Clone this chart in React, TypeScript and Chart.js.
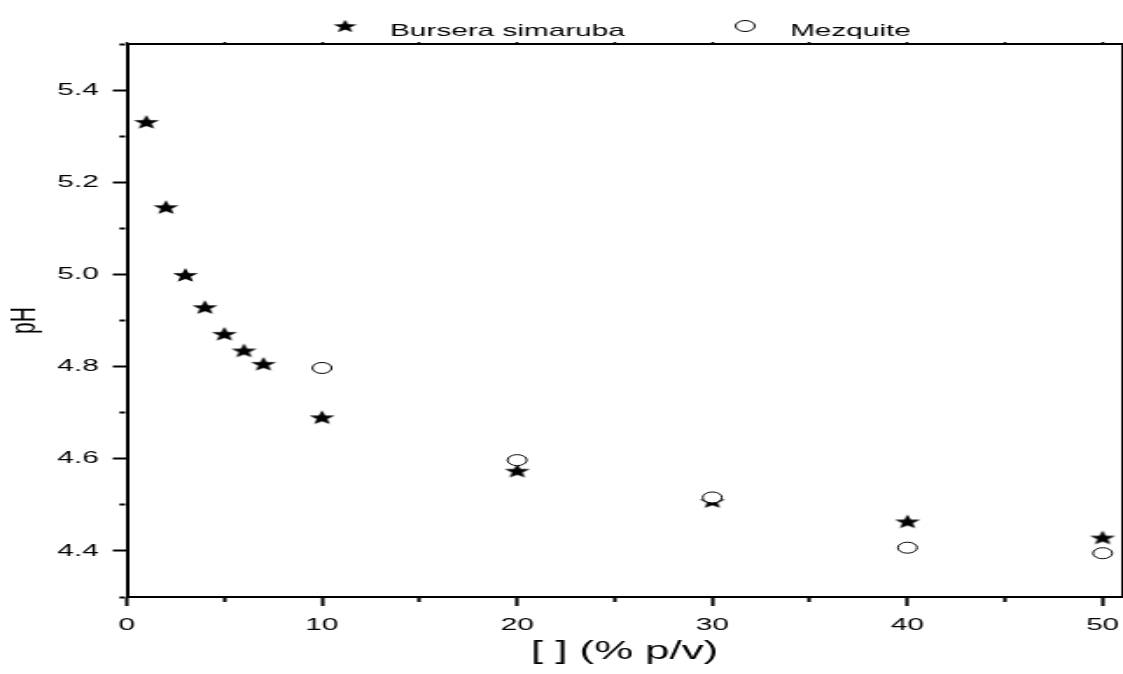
import React, { useEffect, useRef } from 'react';
import { Chart, registerables } from 'chart.js';

Chart.register(...registerables);

// ---- data ----
const seriesNames = ['Bursera simaruba', 'Mezquite'];
const burseraX = [1, 2, 3, 4, 5, 6, 7, 10, 20, 30, 40, 50];
const burseraPH = [5.331, 5.146, 4.999, 4.929, 4.871, 4.835, 4.806, 4.69, 4.574, 4.508, 4.464, 4.429];
const mezquiteX = [10, 20, 30, 40, 50];
const mezquitePH = [4.797, 4.597, 4.516, 4.407, 4.395];

const xTitle = '[ ] (% p/v)';
const yTitle = 'pH';
const xRange = [0, 51];
const yRange = [4.3, 5.5];
const xMajorTicks = [0, 10, 20, 30, 40, 50];
const xMinorTicks = [5, 15, 25, 35, 45];
const yMajorTicks = [4.4, 4.6, 4.8, 5.0, 5.2, 5.4];
const yMinorTicks = [4.3, 4.5, 4.7, 4.9, 5.1, 5.3, 5.5];

// ---- layout (internal canvas is stretched horizontally, like the reference) ----
const W = 642;
const H = 674;
const DISPLAY_W = 1123;
const FONT = '"Liberation Sans", Arial, Helvetica, sans-serif';

function makeStar(R: number): HTMLCanvasElement {
  const size = Math.ceil(R * 2 + 4);
  const c = document.createElement('canvas');
  c.width = size;
  c.height = size;
  const g = c.getContext('2d') as CanvasRenderingContext2D;
  const cx = size / 2;
  const cy = size / 2 + R * 0.095;
  g.beginPath();
  for (let i = 0; i < 10; i++) {
    const r = i % 2 === 0 ? R : R * 0.42;
    const a = -Math.PI / 2 + (i * Math.PI) / 5;
    const px = cx + r * Math.cos(a);
    const py = cy + r * Math.sin(a);
    if (i === 0) g.moveTo(px, py);
    else g.lineTo(px, py);
  }
  g.closePath();
  g.fillStyle = '#000';
  g.fill();
  return c;
}

const sortedTicks = (a: number[], b: number[]) => [...a, ...b].sort((p, q) => p - q).map((v) => ({ value: v }));
const noPad = (s: any) => {
  s.paddingLeft = 0;
  s.paddingRight = 0;
  s.paddingTop = 0;
  s.paddingBottom = 0;
};

export default function App() {
  const ref = useRef<HTMLCanvasElement | null>(null);

  useEffect(() => {
    if (!ref.current) return;
    const plotStar = makeStar(7.6);
    const legendStar = makeStar(7);

    const legendPlugin = {
      id: 'topLegend',
      afterDraw(chart: any) {
        const { ctx, chartArea } = chart;
        const yMark = chartArea.top - 18;
        const yText = chartArea.top - 8;
        ctx.save();
        ctx.drawImage(legendStar, chartArea.left + 124.8 - legendStar.width / 2, yMark - legendStar.height / 2);
        ctx.beginPath();
        ctx.arc(chartArea.left + 353.5, yMark, 5.5, 0, Math.PI * 2);
        ctx.fillStyle = '#fff';
        ctx.fill();
        ctx.lineWidth = 1;
        ctx.strokeStyle = '#000';
        ctx.stroke();
        ctx.fillStyle = '#000';
        ctx.font = `17px ${FONT}`;
        ctx.textBaseline = 'alphabetic';
        ctx.textAlign = 'left';
        ctx.fillText(seriesNames[0], chartArea.left + 150.5, yText);
        ctx.fillText(seriesNames[1], chartArea.left + 379.2, yText);
        ctx.restore();
      },
    };

    const isIn = (arr: number[], v: any) => typeof v === 'number' && arr.some((m) => Math.abs(m - v) < 1e-9);

    const chart = new Chart(ref.current, {
      type: 'scatter',
      data: {
        datasets: [
          {
            label: seriesNames[0],
            data: burseraX.map((x, i) => ({ x, y: burseraPH[i] })),
            pointStyle: plotStar as any,
            pointRadius: 6,
            pointHoverRadius: 6,
            order: 2,
          },
          {
            label: seriesNames[1],
            data: mezquiteX.map((x, i) => ({ x, y: mezquitePH[i] })),
            pointStyle: 'circle',
            pointRadius: 5.5,
            pointHoverRadius: 5.5,
            pointBorderWidth: 1,
            pointBorderColor: '#000',
            pointBackgroundColor: '#fff',
            order: 1,
          },
        ],
      },
      options: {
        animation: false,
        responsive: false,
        devicePixelRatio: 1,
        layout: { autoPadding: false, padding: { left: 0, right: 0.5, top: 0, bottom: 0 } },
        plugins: { legend: { display: false }, tooltip: { enabled: false } },
        events: [],
        scales: {
          x: {
            type: 'linear',
            position: 'bottom',
            min: xRange[0],
            max: xRange[1],
            afterBuildTicks: (s: any) => { s.ticks = sortedTicks(xMajorTicks, xMinorTicks); },
            afterFit: (s: any) => { s.height = 77; noPad(s); },
            ticks: {
              autoSkip: false,
              maxRotation: 0,
              padding: 9,
              color: '#000',
              font: { family: FONT, size: 17 },
              callback: (v: any) => (isIn(xMajorTicks, v) ? String(v) : ''),
            },
            grid: {
              drawOnChartArea: false,
              drawTicks: true,
              tickLength: 9,
              tickWidth: 2,
              tickColor: '#000',
              tickBorderDash: (c: any) => (c.tick && !isIn(xMajorTicks, c.tick.value) ? [4, 50] : []),
            },
            border: { display: true, color: '#000', width: 2 },
            title: {
              display: true,
              text: xTitle,
              color: '#000',
              font: { family: FONT, size: 25 },
              padding: { top: 0, bottom: 7 },
            },
          },
          xTop: {
            type: 'linear',
            position: 'top',
            min: xRange[0],
            max: xRange[1],
            afterBuildTicks: (s: any) => { s.ticks = sortedTicks(xMajorTicks, xMinorTicks); },
            afterFit: (s: any) => { s.height = 44; noPad(s); },
            ticks: { display: false, autoSkip: false },
            grid: { drawOnChartArea: false, drawTicks: true, tickLength: 2, tickWidth: 1.5, tickColor: '#000' },
            border: { display: true, color: '#000', width: 2 },
          },
          y: {
            type: 'linear',
            position: 'left',
            min: yRange[0],
            max: yRange[1],
            afterBuildTicks: (s: any) => { s.ticks = sortedTicks(yMajorTicks, yMinorTicks); },
            afterFit: (s: any) => { s.width = 72.5; noPad(s); },
            ticks: {
              autoSkip: false,
              padding: 8,
              color: '#000',
              font: { family: FONT, size: 17 },
              callback: (v: any) => (isIn(yMajorTicks, v) ? Number(v).toFixed(1) : ''),
            },
            grid: {
              drawOnChartArea: false,
              drawTicks: true,
              tickLength: 8,
              tickWidth: 2,
              tickColor: '#000',
              tickBorderDash: (c: any) => (c.tick && !isIn(yMajorTicks, c.tick.value) ? [0, 3.8, 3.2, 50] : []),
            },
            border: { display: true, color: '#000', width: 2 },
            title: {
              display: true,
              text: yTitle,
              color: '#000',
              font: { family: FONT, size: 21 },
              padding: { top: 1.5, bottom: 0 },
            },
          },
          yRight: {
            type: 'linear',
            position: 'right',
            min: yRange[0],
            max: yRange[1],
            afterFit: (s: any) => { s.width = 0; noPad(s); },
            ticks: { display: false },
            grid: { drawOnChartArea: false, drawTicks: false },
            border: { display: true, color: '#000', width: 1 },
          },
        },
      },
      plugins: [legendPlugin],
    });

    return () => chart.destroy();
  }, []);

  return (
    <div style={{ position: 'absolute', left: 0, top: 0, width: DISPLAY_W, height: H, background: '#fff' }}>
      <canvas
        ref={ref}
        width={W}
        height={H}
        style={{ display: 'block', width: `${DISPLAY_W}px`, height: `${H}px` }}
      />
    </div>
  );
}
